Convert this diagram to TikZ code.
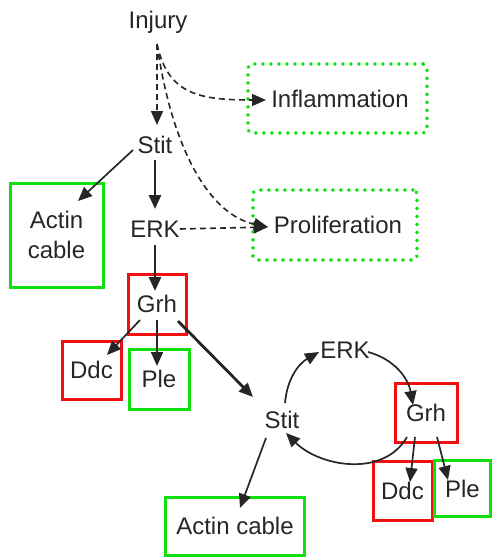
\documentclass[tikz,border=0pt]{standalone}
\usepackage{fontspec}
\setmainfont{Liberation Sans}
\usetikzlibrary{arrows.meta}
\definecolor{gbox}{HTML}{10E010}
\definecolor{rbox}{HTML}{F01010}
\definecolor{ink}{HTML}{262626}
\tikzset{
  lbl/.style={font=\fontsize{12}{14}\selectfont, text=ink, inner sep=0pt},
  gbx/.style={lbl, draw=gbox, line width=1.5pt},
  rbx/.style={lbl, draw=rbox, line width=1.5pt},
  dbx/.style={lbl, draw=gbox, line width=1.9pt, dash pattern=on 0.1pt off 3.9pt, line cap=round, rounded corners=2pt},
  tip/.style={-{Triangle[length=7pt,width=6pt]}},
  thin/.style={tip, draw=ink, line width=0.85pt},
  thick/.style={tip, draw=ink, line width=1.4pt},
  dsh/.style={tip, draw=ink, line width=0.8pt, dash pattern=on 3pt off 2pt},
}
\begin{document}
\begin{tikzpicture}[x=0.5pt,y=-0.5pt]
\useasboundingbox (0,0) rectangle (492,557);
% text nodes
\node[lbl] (inj) at (158,22) {Injury};
\node[lbl] (stit1) at (155,145) {Stit};
\node[lbl] (erk1) at (155,229) {ERK};
\node[lbl] (stit2) at (282,420) {Stit};
\node[lbl] (erk2) at (345,350) {ERK};
% boxes
\node[dbx, minimum width=89.5pt, minimum height=34.5pt] (infl) at (337.5,98.5) {};
\node[lbl] (inflt) at (340,99) {Inflammation};
\node[dbx, minimum width=82pt, minimum height=35pt] (prol) at (335,225) {};
\node[lbl] (prolt) at (338,225) {Proliferation};
\node[gbx, minimum width=46.5pt, minimum height=52pt, align=center] (act1) at (56.5,235) {Actin\\[1pt]cable};
\node[rbx, minimum width=29pt, minimum height=30pt] (grh1) at (157,304) {Grh};
\node[rbx, minimum width=29.5pt, minimum height=29pt] (ddc1) at (91.5,370) {Ddc};
\node[gbx, minimum width=30pt, minimum height=30pt] (ple1) at (159,379) {Ple};
\node[gbx, minimum width=69.5pt, minimum height=29pt] (act2) at (235,526) {Actin cable};
\node[rbx, minimum width=31pt, minimum height=29.5pt] (grh2) at (426,412.5) {Grh};
\node[rbx, minimum width=29.5pt, minimum height=29.5pt] (ddc2) at (402.5,490.5) {Ddc};
\node[gbx, minimum width=28pt, minimum height=28pt] (ple2) at (462.5,488.5) {Ple};
% coordinates
\coordinate (injs) at (157,44);
\coordinate (stit1t) at (157,125);
\coordinate (infla) at (266,100);
\coordinate (prola) at (268,227);
\coordinate (erk1e) at (180,229);
% dashed
\draw[dsh] (injs) -- (stit1t);
\draw[dsh] (injs) .. controls (168,95) and (200,100) .. (infla);
\draw[dsh] (injs) .. controls (172,150) and (210,215) .. (prola);
\draw[dsh] (erk1e) -- (prola);
% solid
\coordinate (s1a) at (133,150); \coordinate (s1b) at (78,201);
\draw[thin] (s1a) -- (s1b);
\coordinate (s1d) at (155,160); \coordinate (e1u) at (155,209);
\draw[thick] (s1d) -- (e1u);
\coordinate (e1d) at (155,245); \coordinate (g1u) at (155,291);
\draw[thick] (e1d) -- (g1u);
\coordinate (g1a) at (140,320); \coordinate (d1a) at (107,355);
\draw[thin] (g1a) -- (d1a);
\coordinate (g1b) at (157,320); \coordinate (p1a) at (157,366);
\draw[thin] (g1b) -- (p1a);
\coordinate (g1c) at (178,321); \coordinate (s2a) at (253,397);
\draw[thick] (g1c) -- (s2a);
\coordinate (s2b) at (266,438); \coordinate (a2a) at (240,508);
\draw[thin] (s2b) -- (a2a);
% cycle
\coordinate (s2c) at (285,403); \coordinate (e2a) at (319,352);
\draw[thin] (s2c) to[out=85,in=210] (e2a);
\coordinate (e2b) at (368,352); \coordinate (g2a) at (413,405);
\draw[thin] (e2b) to[out=-15,in=100] (g2a);
\coordinate (g2b) at (407,437); \coordinate (s2d) at (286,433);
\draw[thin] (g2b) to[out=-120,in=-45] (s2d);
\coordinate (g2c) at (415,437); \coordinate (d2a) at (410,482);
\draw[thin] (g2c) -- (d2a);
\coordinate (g2d) at (437,437); \coordinate (p2a) at (448,480);
\draw[thin] (g2d) -- (p2a);
\end{tikzpicture}
\end{document}
